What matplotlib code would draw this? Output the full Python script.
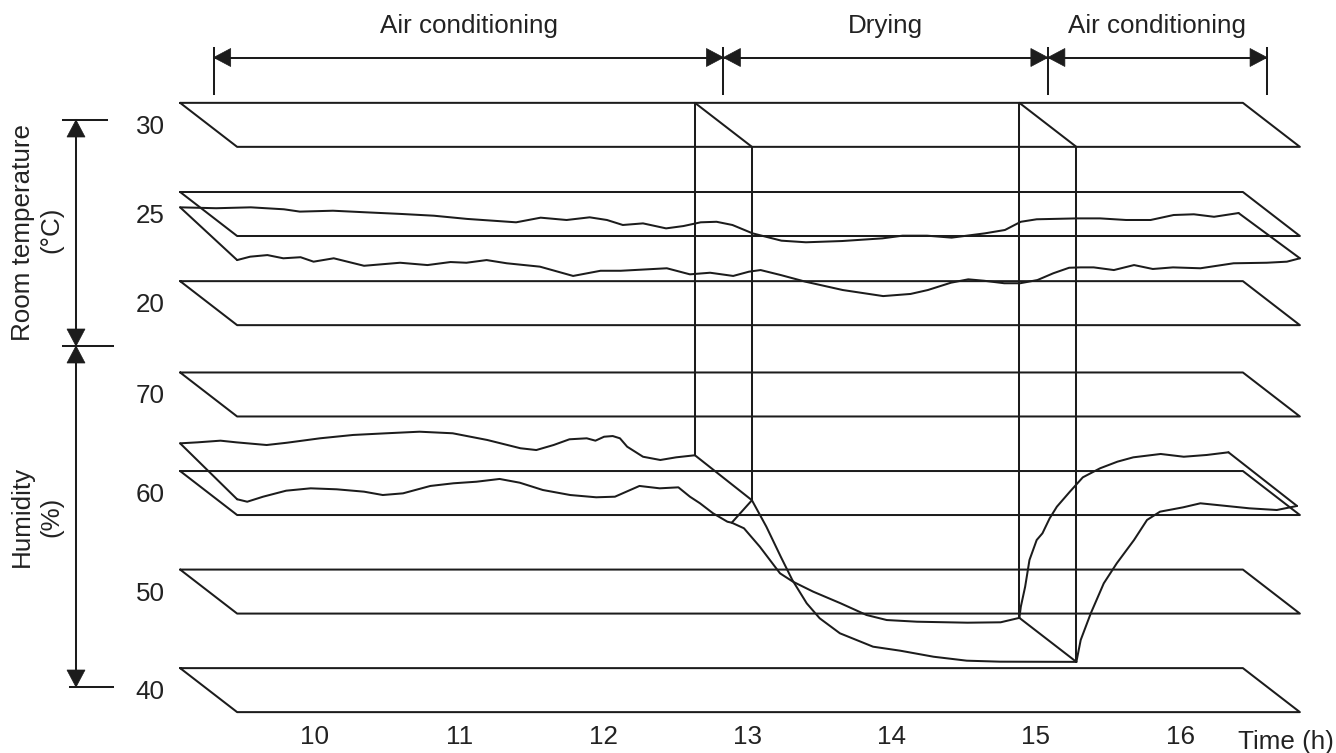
import numpy as np
import matplotlib
matplotlib.use("Agg")
import matplotlib.pyplot as plt
from matplotlib.patches import Polygon
from matplotlib.transforms import blended_transform_factory, offset_copy

# ---------------------------------------------------------------- data
hours = [10, 11, 12, 13, 14, 15, 16]
temp_grid = [20, 25, 30]          # deg C
hum_grid = [40, 50, 60, 70]       # %
phase_names = ["Air conditioning", "Drying", "Air conditioning"]
phase_edges = [9.495, 13.03, 15.28, 16.80]   # h (annotation ticks)
slice_times = [13.03, 15.28]                 # h (mode switches)
t_start, t_end = 9.46, 16.83                 # h (extent of the planes)

# room temperature, back trace
temp_back_t = [9.46, 9.71, 9.95, 10.18, 10.29, 10.52, 10.75, 10.99, 11.22, 11.45,
               11.63, 11.79, 11.96, 12.14, 12.30, 12.42, 12.53, 12.67, 12.83, 12.95,
               13.07, 13.18, 13.29, 13.43, 13.63, 13.80, 14.05, 14.33, 14.47, 14.64,
               14.81, 15.04, 15.18, 15.29, 15.40, 15.68, 15.84, 16.02, 16.19, 16.35,
               16.49, 16.63, 16.80]
temp_back_v = [24.14, 24.09, 24.14, 24.03, 23.90, 23.95, 23.86, 23.77, 23.67, 23.49,
               23.39, 23.30, 23.56, 23.43, 23.58, 23.43, 23.15, 23.24, 22.96, 23.09,
               23.30, 23.33, 23.15, 22.68, 22.27, 22.18, 22.25, 22.40, 22.55, 22.55,
               22.44, 22.68, 22.87, 23.33, 23.47, 23.52, 23.52, 23.43, 23.43, 23.71,
               23.75, 23.61, 23.82]
# room temperature, front trace
temp_front_t = [9.46, 9.55, 9.67, 9.78, 9.90, 9.99, 10.13, 10.34, 10.59, 10.78,
                10.94, 11.05, 11.19, 11.33, 11.56, 11.79, 11.98, 12.12, 12.44, 12.60,
                12.74, 12.90, 13.01, 13.09, 13.23, 13.40, 13.66, 13.94, 14.13, 14.25,
                14.41, 14.53, 14.64, 14.78, 14.89, 15.01, 15.12, 15.23, 15.31, 15.40,
                15.54, 15.68, 15.81, 15.95, 16.14, 16.37, 16.60, 16.74, 16.83]
temp_front_v = [23.65, 23.84, 23.93, 23.75, 23.81, 23.56, 23.75, 23.33, 23.50, 23.37,
                23.54, 23.50, 23.65, 23.47, 23.28, 22.76, 23.05, 23.05, 23.19, 22.85,
                22.94, 22.76, 23.00, 23.09, 22.81, 22.44, 21.97, 21.63, 21.75, 21.97,
                22.38, 22.57, 22.49, 22.35, 22.35, 22.53, 22.91, 23.22, 23.24, 23.24,
                23.09, 23.37, 23.15, 23.24, 23.19, 23.47, 23.50, 23.56, 23.75]

# humidity, first air-conditioning period
hum_back_ac1_t = [9.46, 9.58, 9.74, 9.85, 10.06, 10.20, 10.43, 10.66, 10.89, 11.12,
                  11.35, 11.59, 11.82, 11.93, 12.05, 12.16, 12.28, 12.34, 12.40, 12.46,
                  12.51, 12.56, 12.67, 12.79, 12.90, 13.03]
hum_back_ac1_v = [62.81, 62.91, 63.08, 62.91, 62.64, 62.87, 63.32, 63.66, 63.83, 63.99,
                  63.83, 63.15, 62.31, 62.13, 62.64, 63.22, 63.32, 63.08, 63.48, 63.55,
                  63.32, 62.47, 61.45, 61.12, 61.39, 61.60]
hum_front_ac1_t = [9.46, 9.53, 9.64, 9.80, 9.97, 10.15, 10.34, 10.47, 10.61, 10.80,
                   10.96, 11.12, 11.28, 11.42, 11.58, 11.77, 11.95, 12.08, 12.25, 12.39,
                   12.52, 12.60, 12.67, 12.76, 12.86, 12.89, 13.03]
hum_front_ac1_v = [61.60, 61.35, 61.86, 62.47, 62.71, 62.61, 62.37, 62.03, 62.20, 62.95,
                   63.22, 63.38, 63.66, 63.28, 62.54, 62.03, 61.80, 61.86, 62.95, 62.71,
                   62.81, 61.86, 61.19, 60.18, 59.32, 59.22, 61.50]
# humidity, drying period
hum_back_dry_t = [13.285, 13.37, 13.48, 13.62, 13.71, 13.85, 14.04, 14.22, 14.36, 14.57,
                  14.92, 15.15, 15.28]
hum_back_dry_v = [54.76, 54.19, 52.32, 49.62, 48.77, 47.76, 46.58, 45.39, 44.88, 44.71,
                  44.61, 44.65, 45.10]
hum_front_dry_t = [13.03, 13.13, 13.23, 13.31, 13.41, 13.50, 13.64, 13.87, 14.06, 14.29,
                   14.52, 14.75, 15.28]
hum_front_dry_v = [61.50, 58.82, 55.77, 53.41, 51.04, 49.52, 48.00, 46.64, 46.23, 45.62,
                   45.22, 45.12, 45.10]
# humidity, second air-conditioning period
hum_back_ac2_t = [15.28, 15.29, 15.32, 15.35, 15.40, 15.44, 15.49, 15.54, 15.63, 15.72,
                  15.84, 15.96, 16.07, 16.26, 16.42, 16.58, 16.73]
hum_back_ac2_v = [45.10, 46.23, 48.26, 50.97, 53.00, 53.68, 55.20, 56.38, 57.90, 59.36,
                  60.28, 60.95, 61.39, 61.73, 61.45, 61.63, 61.90]
hum_front_ac2_t = [15.28, 15.31, 15.38, 15.47, 15.56, 15.68, 15.77, 15.86, 16.02, 16.14,
                   16.32, 16.48, 16.67, 16.81]
hum_front_ac2_v = [45.10, 47.32, 50.03, 53.07, 55.10, 57.47, 59.50, 60.34, 60.78, 61.19,
                   60.92, 60.68, 60.51, 60.92]

# ---------------------------------------------------------------- layout / style
W, H = 1336, 753
X10, PX_H = 315.0, 144.2     # pixel x of 10 h on the front plane, pixels per hour
Y25, PX_C = 236.0, 17.83     # pixel y of 25 degC on the front plane, pixels per degree
Y55, PX_P = 564.3, 9.855     # pixel y of 55 % on the front plane, pixels per percent
OFF_X, OFF_Y = 57.0, 44.0    # oblique offset of the back plane (pixels)

INK = "#1c1c1c"
TXT = "#222222"
LW = 1.45
FS = 18.7
plt.rcParams['font.family'] = ['Liberation Sans', 'DejaVu Sans']

fig = plt.figure(figsize=(W / 100, H / 100), dpi=100)
ax_t = fig.add_axes([0, 0, 1, 1])
ax_h = fig.add_axes([0, 0, 1, 1])
ax_p = fig.add_axes([0, 0, 1, 1])
xlim = (10 - X10 / PX_H, 10 + (W - X10) / PX_H)
for a in (ax_t, ax_h):
    a.set_xlim(*xlim)
ax_t.set_ylim(25 - (H - Y25) / PX_C, 25 + Y25 / PX_C)
ax_h.set_ylim(55 - (H - Y55) / PX_P, 55 + Y55 / PX_P)
ax_p.set_xlim(0, W)
ax_p.set_ylim(H, 0)
for a in (ax_t, ax_h, ax_p):
    a.set_axis_off()
    a.patch.set_alpha(0)

DT = OFF_X / PX_H      # back-plane shift in hours
DVT = OFF_Y / PX_C     # back-plane shift in degrees
DVH = OFF_Y / PX_P     # back-plane shift in percent


def line(ax, xs, ys, **kw):
    ax.plot(xs, ys, color=INK, lw=LW, solid_joinstyle='round',
            solid_capstyle='round', **kw)


def back(t, v, dv):
    return np.asarray(t, float) - DT, np.asarray(v, float) + dv


def connect(ax, tb, vb, tf, vf, dv):
    line(ax, [tb - DT, tf], [vb + dv, vf])


# ---------------------------------------------------------------- grid planes
for ax, grid, dv in ((ax_t, temp_grid, DVT), (ax_h, hum_grid, DVH)):
    for g in grid:
        xs = [t_start - DT, t_end - DT, t_end, t_start, t_start - DT]
        ys = [g + dv, g + dv, g, g, g + dv]
        line(ax, xs, ys)

# ---------------------------------------------------------------- temperature traces
line(ax_t, *back(temp_back_t, temp_back_v, DVT))
line(ax_t, temp_front_t, temp_front_v)
connect(ax_t, temp_back_t[0], temp_back_v[0], temp_front_t[0], temp_front_v[0], DVT)
connect(ax_t, temp_back_t[-1], temp_back_v[-1], temp_front_t[-1], temp_front_v[-1], DVT)

# ---------------------------------------------------------------- humidity traces
for tb, vb in ((hum_back_ac1_t, hum_back_ac1_v), (hum_back_dry_t, hum_back_dry_v),
               (hum_back_ac2_t, hum_back_ac2_v)):
    line(ax_h, *back(tb, vb, DVH))
for tf, vf in ((hum_front_ac1_t, hum_front_ac1_v), (hum_front_dry_t, hum_front_dry_v),
               (hum_front_ac2_t, hum_front_ac2_v)):
    line(ax_h, tf, vf)
connect(ax_h, hum_back_ac1_t[0], hum_back_ac1_v[0], hum_front_ac1_t[0], hum_front_ac1_v[0], DVH)
connect(ax_h, hum_back_ac2_t[-1], hum_back_ac2_v[-1], hum_front_ac2_t[-1], hum_front_ac2_v[-1], DVH)


# ---------------------------------------------------------------- slices at mode switches
def temp_as_hum(T):
    yd = ax_t.transData.transform((xlim[0], T))[1]
    return ax_h.transData.inverted().transform((0, yd))[1]


t_top = max(temp_grid)
slice_ends = [(hum_back_ac1_v[-1], hum_front_dry_v[0]),
              (hum_back_dry_v[-1], hum_front_dry_v[-1])]
for ts, (hb, hf) in zip(slice_times, slice_ends):
    line(ax_h, [ts - DT, ts - DT], [temp_as_hum(t_top + DVT), hb + DVH])
    line(ax_h, [ts, ts], [temp_as_hum(t_top), hf])
    line(ax_t, [ts - DT, ts], [t_top + DVT, t_top])
    line(ax_h, [ts - DT, ts], [hb + DVH, hf])


# ---------------------------------------------------------------- helpers in pixels
def px_x(t):
    return ax_t.transData.transform((t, 0))[0]


def tri(tip_x, tip_y, d, L=17, hw=9):
    if d == 'left':
        pts = [(tip_x, tip_y), (tip_x + L, tip_y - hw), (tip_x + L, tip_y + hw)]
    elif d == 'right':
        pts = [(tip_x, tip_y), (tip_x - L, tip_y - hw), (tip_x - L, tip_y + hw)]
    elif d == 'up':
        pts = [(tip_x, tip_y), (tip_x - hw, tip_y + L), (tip_x + hw, tip_y + L)]
    else:
        pts = [(tip_x, tip_y), (tip_x - hw, tip_y - L), (tip_x + hw, tip_y - L)]
    ax_p.add_patch(Polygon(pts, closed=True, facecolor=INK, edgecolor=INK, lw=0.5))


# ---------------------------------------------------------------- phase annotation
ARR_Y = 57.5
edge_px = [px_x(t) - OFF_X / 2 for t in phase_edges]
for xe in edge_px:
    ax_p.plot([xe, xe], [48, 94], color=INK, lw=LW)
for i, name in enumerate(phase_names):
    x0, x1 = edge_px[i], edge_px[i + 1]
    ax_p.plot([x0, x1], [ARR_Y, ARR_Y], color=INK, lw=LW)
    tri(x0, ARR_Y, 'left')
    tri(x1, ARR_Y, 'right')
    ax_p.text((x0 + x1) / 2, 33.3, name, ha='center', va='baseline',
              fontsize=FS, color=TXT)

# ---------------------------------------------------------------- axis labels
tr_hours = blended_transform_factory(ax_t.transData, ax_p.transData)
for h in hours:
    ax_t.text(h, 743.7, str(h), transform=tr_hours, ha='center', va='baseline',
              fontsize=FS, color=TXT)
ax_p.text(1238, 749, "Time (h)", ha='left', va='baseline', fontsize=FS, color=TXT)

tr_tv = offset_copy(blended_transform_factory(ax_p.transData, ax_t.transData),
                    fig=fig, x=0, y=-9, units='dots')
for g in temp_grid:
    ax_t.text(150, g + DVT / 2, str(g), transform=tr_tv, ha='center', va='baseline',
              fontsize=FS, color=TXT)
tr_hv = offset_copy(blended_transform_factory(ax_p.transData, ax_h.transData),
                    fig=fig, x=0, y=-9, units='dots')
for g in hum_grid:
    ax_h.text(150, g + DVH / 2, str(g), transform=tr_hv, ha='center', va='baseline',
              fontsize=FS, color=TXT)

# left brackets
BX = 76
ax_p.plot([BX, BX], [120, 687], color=INK, lw=LW)
ax_p.plot([63, 107], [120, 120], color=INK, lw=LW)
ax_p.plot([63, 113], [346, 346], color=INK, lw=LW)
ax_p.plot([70, 113], [687, 687], color=INK, lw=LW)
tri(BX, 120, 'up')
tri(BX, 346, 'down')
tri(BX, 346, 'up')
tri(BX, 687, 'down')

ax_p.text(23, 232, "Room temperature", rotation=90, ha='center', va='center',
          fontsize=FS, color=TXT)
ax_p.text(51, 230, "(°C)", rotation=90, ha='center', va='center',
          fontsize=FS, color=TXT)
ax_p.text(22, 516, "Humidity", rotation=90, ha='center', va='center',
          fontsize=FS, color=TXT)
ax_p.text(51, 517, "(%)", rotation=90, ha='center', va='center',
          fontsize=FS, color=TXT)

fig.savefig("out.png", dpi=100, facecolor='white')
